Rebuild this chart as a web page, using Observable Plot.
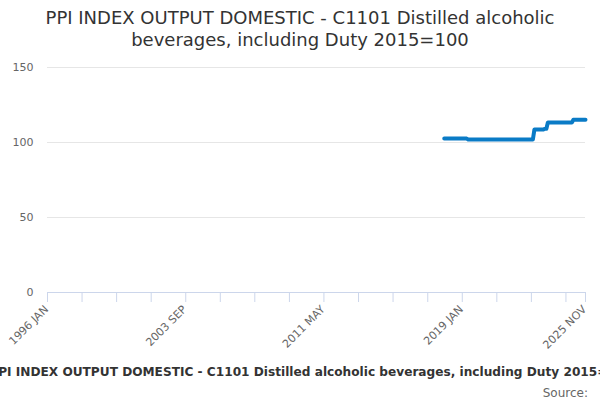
<!DOCTYPE html>
<html>
<head>
<meta charset="utf-8">
<script src="https://cdn.jsdelivr.net/npm/d3@7"></script>
<script src="https://cdn.jsdelivr.net/npm/@observablehq/plot@0.6"></script>
<style>
  html, body { margin: 0; padding: 0; background: #fff; }
  #wrap { position: relative; width: 600px; height: 400px; overflow: hidden; font-family: "DejaVu Sans", sans-serif; }
  #title { position: absolute; left: 0; top: 7px; width: 600px; text-align: center; font-size: 18px; line-height: 22px; color: #333; }
  #caption { position: absolute; left: -89px; top: 365px; width: 800px; text-align: center; font-size: 12.15px; font-weight: bold; color: #333; white-space: nowrap; }
  #source { position: absolute; right: 12px; top: 386px; font-size: 12px; color: #666; }
  #chart { position: absolute; left: 0; top: 0; }
</style>
</head>
<body>
<div id="wrap">
  <div id="chart"></div>
  <div id="title">PPI INDEX OUTPUT DOMESTIC - C1101 Distilled alcoholic<br>beverages, including Duty 2015=100</div>
  <div id="caption">PPI INDEX OUTPUT DOMESTIC - C1101 Distilled alcoholic beverages, including Duty 2015=100</div>
  <div id="source">Source:</div>
</div>
<script>
// Axis categories
const axisStart = "1996-01";
const axisEnd = "2025-11";
const tickLabels = ["1996 JAN", "2003 SEP", "2011 MAY", "2019 JAN", "2025 NOV"];
const yTicks = [0, 50, 100, 150];

// Series: monthly index values from 2018 JAN to 2025 NOV
const seriesStart = "2018-01";
const seriesValues = [
  102.6, 102.6, 102.6, 102.6, 102.6, 102.6, 102.6, 102.6, 102.6, 102.6, 102.6, 102.6,
  102.6, 102.6, 102.6, 102.6,
  102.0, 102.0, 102.0, 102.0, 102.0, 102.0, 102.0, 102.0,
  102.0, 102.0, 102.0, 102.0, 102.0, 102.0, 102.0, 102.0, 102.0, 102.0, 102.0, 102.0,
  102.0, 102.0, 102.0, 102.0, 102.0, 102.0, 102.0, 102.0, 102.0, 102.0, 102.0, 102.0,
  102.0, 102.0, 102.0, 102.0, 102.0, 102.0, 102.0, 102.0, 102.0, 102.0, 102.0, 102.0,
  108.6, 108.6, 108.6, 108.6, 108.6, 108.6, 108.6,
  109.2, 109.2,
  113.4, 113.4, 113.4,
  113.4, 113.4, 113.4, 113.4, 113.4, 113.4, 113.4, 113.4, 113.4, 113.4, 113.4, 113.4,
  113.4, 113.4,
  115.2, 115.2, 115.2, 115.2, 115.2, 115.2, 115.2, 115.2, 115.2
];

const parseM = d3.utcParse("%Y-%m");
const monthNames = ["JAN","FEB","MAR","APR","MAY","JUN","JUL","AUG","SEP","OCT","NOV","DEC"];
const parseLabel = s => { const [y, m] = s.split(" "); return new Date(Date.UTC(+y, monthNames.indexOf(m), 1)); };

const x0 = parseM(axisStart), x1 = parseM(axisEnd);
const s0 = parseM(seriesStart);
const data = seriesValues.map((v, i) => ({ date: d3.utcMonth.offset(s0, i), value: v }));

const labelDates = tickLabels.map(parseLabel);
const allMonths = d3.utcMonth.range(x0, d3.utcMonth.offset(x1, 1));
const tickDates = allMonths.filter((d, i) => i % 23 === 0).concat([x1]);
const labelMap = new Map(labelDates.map((d, i) => [+d, tickLabels[i]]));

const grey = "#666666";
const axisColor = "#ccd6eb";

const chart = Plot.plot({
  width: 600,
  height: 400,
  marginTop: 67,
  marginBottom: 108,
  marginLeft: 47,
  marginRight: 15,
  style: { fontFamily: "DejaVu Sans, sans-serif", fontSize: "11px", color: grey, background: "transparent" },
  x: { type: "utc", domain: [x0, x1] },
  y: { domain: [0, 150] },
  marks: [
    Plot.gridY(yTicks.filter(d => d > 0), { stroke: "#e6e6e6", strokeOpacity: 1 }),
    Plot.axisY(yTicks, { tickSize: 0, tickPadding: 14, fill: grey, fontSize: 11, label: null }),
    Plot.ruleY([0], { stroke: axisColor, strokeWidth: 1 }),
    Plot.axisX(tickDates, { tickSize: 10, stroke: axisColor, strokeOpacity: 1, tickFormat: () => "", label: null }),
    Plot.axisX(labelDates, {
      tickSize: 0, tickPadding: 0, tickRotate: -45, fill: grey, fontSize: 11, label: null,
      tickFormat: d => labelMap.get(+d), dy: 15, dx: -1, textAnchor: "end"
    }),
    Plot.line(data, { x: "date", y: "value", stroke: "#0a7bc6", strokeWidth: 4, strokeLinecap: "round", strokeLinejoin: "round" })
  ]
});
document.getElementById("chart").appendChild(chart);
</script>
</body>
</html>
